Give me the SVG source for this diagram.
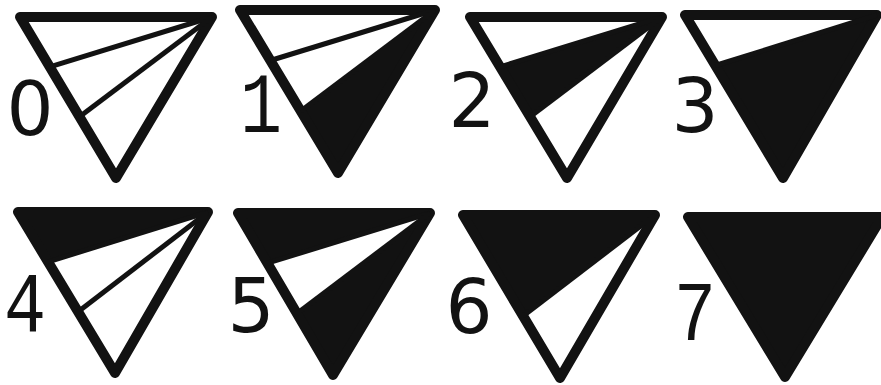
<svg xmlns="http://www.w3.org/2000/svg" width="881" height="385" viewBox="0 0 881 385">
<style>
.bg{fill:#ffffff}
.blk{fill:#121212;stroke:none}
.outline{fill:none;stroke:#121212;stroke-width:10;stroke-linejoin:round}
.div{fill:none;stroke:#121212;stroke-width:5;stroke-linecap:butt}
.num{font-family:"Liberation Mono","DejaVu Sans Mono",monospace;font-size:86px;fill:#121212;text-anchor:middle}
.rnd{font-family:"DejaVu Sans","Liberation Sans",sans-serif;font-size:74px;fill:#121212;text-anchor:middle}
</style>
<rect class="bg" x="0" y="0" width="881" height="385"/>

<g id="tri0">
  <polygon class="outline" points="20,17 212,17 116,178"/>
  <line class="div" x1="212" y1="17" x2="49.8" y2="66.9"/>
  <line class="div" x1="212" y1="17" x2="79.5" y2="116.8"/>
  <text class="rnd" x="30" y="135">0</text>
</g>

<g id="tri1">
  <polygon class="blk" points="300.8,111.1 435,10 338,173"/>
  <polygon class="outline" points="240,10 435,10 338,173"/>
  <line class="div" x1="435" y1="10" x2="270.4" y2="60.5"/>
  <line class="div" x1="435" y1="10" x2="300.8" y2="111.1"/>
  <text class="num" x="261" y="132" textLength="42" lengthAdjust="spacingAndGlyphs">1</text>
</g>

<g id="tri2">
  <polygon class="blk" points="500.1,66.9 662,17 530.1,116.8"/>
  <polygon class="outline" points="470,17 662,17 567,178"/>
  <line class="div" x1="662" y1="17" x2="500.1" y2="66.9"/>
  <line class="div" x1="662" y1="17" x2="530.1" y2="116.8"/>
  <text class="rnd" x="472" y="127">2</text>
</g>

<g id="tri3">
  <polygon class="blk" points="715.4,65.5 877,15 783,178"/>
  <polygon class="outline" points="685,15 877,15 783,178"/>
  <line class="div" x1="877" y1="15" x2="715.4" y2="65.5"/>
  <text class="rnd" x="695" y="132">3</text>
</g>

<g id="tri4">
  <polygon class="blk" points="18,212 208,212 48.1,261.9"/>
  <polygon class="outline" points="18,212 208,212 115,373"/>
  <line class="div" x1="208" y1="212" x2="48.1" y2="261.9"/>
  <line class="div" x1="208" y1="212" x2="78.1" y2="311.8"/>
  <text class="num" x="25" y="331" textLength="42" lengthAdjust="spacingAndGlyphs">4</text>
</g>

<g id="tri5">
  <polygon class="blk" points="238,213 430,213 267.5,263.2"/>
  <polygon class="blk" points="296.9,313.4 430,213 333,375"/>
  <polygon class="outline" points="238,213 430,213 333,375"/>
  <line class="div" x1="430" y1="213" x2="267.5" y2="263.2"/>
  <line class="div" x1="430" y1="213" x2="296.9" y2="313.4"/>
  <text class="rnd" x="251" y="332">5</text>
</g>

<g id="tri6">
  <polygon class="blk" points="463,215 655,215 523.1,316.1"/>
  <polygon class="outline" points="463,215 655,215 560,378"/>
  <line class="div" x1="655" y1="215" x2="523.1" y2="316.1"/>
  <text class="rnd" x="469" y="333">6</text>
</g>

<g id="tri7">
  <polygon class="blk" points="688,217 882,217 785,377"/>
  <polygon class="outline" points="688,217 882,217 785,377"/>
  <text class="num" x="695" y="340" textLength="42" lengthAdjust="spacingAndGlyphs">7</text>
</g>

<g id="connectors"></g>
</svg>
